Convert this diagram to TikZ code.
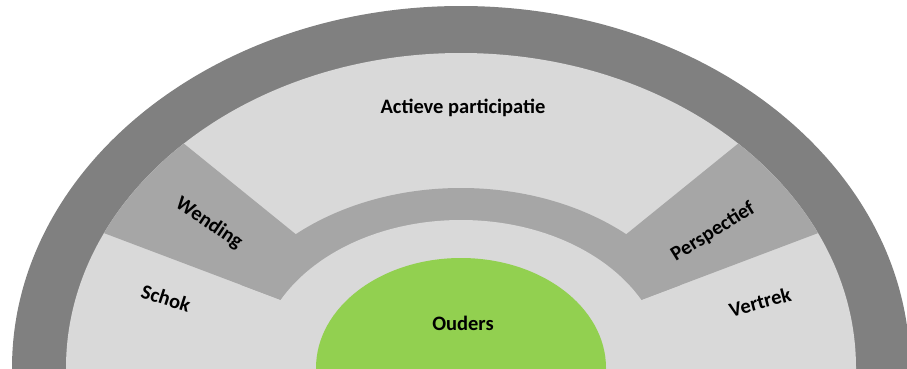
\documentclass[tikz,border=0pt]{standalone}
\usepackage{fontspec}
\setmainfont{Carlito}
\usetikzlibrary{calc}
\definecolor{ringdark}{HTML}{808080}
\definecolor{ringlight}{HTML}{D9D9D9}
\definecolor{ringmid}{HTML}{A6A6A6}
\definecolor{ouders}{HTML}{92D050}
\begin{document}
\begin{tikzpicture}[x=1pt,y=1pt,
  lbl/.style={font=\fontsize{20.5}{24}\selectfont\bfseries, text=black, inner sep=0pt}]
\useasboundingbox (0,0) rectangle (907,368);
\clip (0,0) rectangle (907,368);
\coordinate (c) at (461,0);
% outer dark ring
\fill[ringdark] (c) ellipse [x radius=449, y radius=362];
\fill[ringlight] (c) ellipse [x radius=395, y radius=315];
% wedges and middle band
\begin{scope}
  \clip (c) ellipse [x radius=395, y radius=315];
  \fill[ringmid] (c) -- ($(c)+(20.7:700)$) -- ($(c)+(39:700)$) -- cycle;
  \fill[ringmid] (c) -- ($(c)+(141:700)$) -- ($(c)+(159.3:700)$) -- cycle;
  \clip (c) -- ($(c)+(20.7:700)$) -- ($(c)+(159.3:700)$) -- cycle;
  \fill[ringmid] (c) ellipse [x radius=247, y radius=180];
\end{scope}
\fill[ringlight] (c) ellipse [x radius=203, y radius=148];
% centre
\fill[ouders] (c) ellipse [x radius=145, y radius=110];
% labels
\node[lbl] (ap) at (463,260) {Actieve participatie};
\node[lbl] (ou) at (463,45) {Ouders};
\node[lbl, rotate=-34] (we) at (209,145) {Wending};
\node[lbl, rotate=-18] (sc) at (166,70) {Schok};
\node[lbl, rotate=32] (pe) at (713,136) {Perspectief};
\node[lbl, rotate=15] (ve) at (760,66) {Vertrek};
\end{tikzpicture}
\end{document}
